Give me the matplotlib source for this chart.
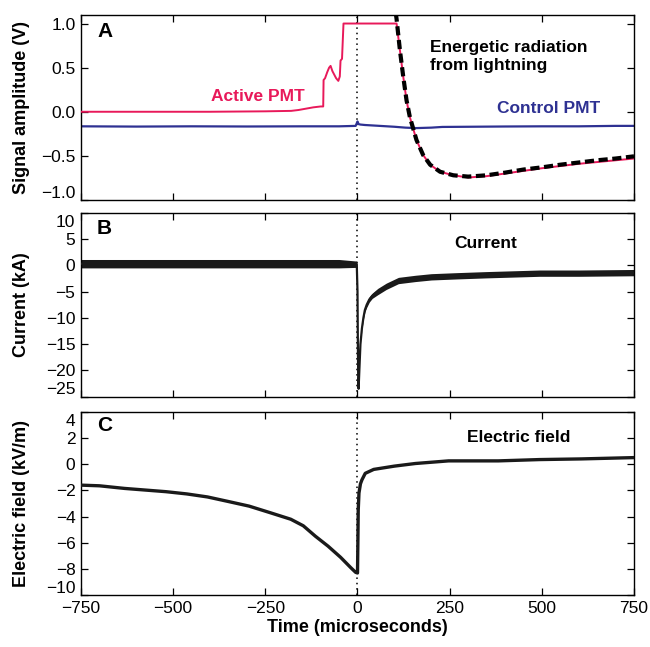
import matplotlib
matplotlib.use("Agg")
import matplotlib.pyplot as plt
import matplotlib.transforms as mtransforms
import numpy as np

plt.rcParams['font.family'] = ['Liberation Sans', 'DejaVu Sans']

# ---------------- data ----------------
# Panel A: Active PMT (red)
active_t = [-750, -600, -400, -250, -180, -160, -140, -120, -100, -93, -92, -88, -82, -77, -73,
            -68, -63, -58, -52, -48, -46, -42, -38, 0, 50, 100, 106, 115, 124, 133, 142, 151,
            160, 178, 197, 224, 260, 300, 350, 400, 450, 500, 550, 600, 650, 700, 750]
active_v = [0.0, 0.0, 0.0, 0.005, 0.01, 0.02, 0.035, 0.05, 0.06, 0.06, 0.36, 0.38, 0.45, 0.50, 0.52,
            0.46, 0.42, 0.38, 0.35, 0.40, 0.58, 0.60, 1.0, 1.0, 1.0, 1.0, 1.0, 0.70, 0.40, 0.13, -0.06, -0.19,
            -0.32, -0.49, -0.60, -0.68, -0.72, -0.745, -0.73, -0.70, -0.67, -0.64, -0.615, -0.59, -0.57, -0.55, -0.53]

# Panel A: fit (black dashed)
fit_t = [98, 106, 115, 124, 133, 142, 151, 160, 178, 197, 224, 260, 300, 350, 400, 450, 500,
         550, 600, 650, 700, 750]
fit_v = [1.30, 1.05, 0.70, 0.40, 0.13, -0.06, -0.19, -0.32, -0.49, -0.60, -0.68, -0.72, -0.735,
         -0.72, -0.69, -0.655, -0.63, -0.60, -0.575, -0.55, -0.53, -0.505]

# Panel A: Control PMT (blue)
control_t = [-750, -600, -450, -300, -150, -50, -5, 0, 3, 8, 20, 40, 60, 100, 130, 160, 200, 230,
             300, 400, 500, 600, 700, 750]
control_v = [-0.165, -0.168, -0.165, -0.167, -0.165, -0.165, -0.16, -0.11, -0.14, -0.145, -0.15,
             -0.155, -0.16, -0.17, -0.18, -0.185, -0.18, -0.172, -0.17, -0.167, -0.165, -0.165, -0.16, -0.16]

# Panel B: current (kA) with noise half-width
current_t = [-750, -600, -400, -200, -50, -2, 0, 1, 2, 3, 5, 8, 12, 16, 20, 25, 32, 40, 55, 78,
             111, 157, 200, 270, 350, 494, 600, 750]
current_v = [0.3, 0.3, 0.3, 0.3, 0.3, 0.2, -5, -15, -22, -23.5, -20, -15, -12, -10, -8.5, -7.5,
             -6.5, -5.8, -5.0, -4.0, -2.9, -2.5, -2.2, -2.0, -1.8, -1.5, -1.5, -1.4]
current_noise = [0.8, 0.8, 0.8, 0.8, 0.8, 0.6, 0, 0, 0, 0, 0, 0, 0.2, 0.3, 0.4, 0.5, 0.5, 0.5, 0.6,
                 0.6, 0.6, 0.6, 0.6, 0.6, 0.6, 0.6, 0.6, 0.6]

# Panel C: electric field (kV/m)
field_t = [-750, -700, -632, -519, -463, -407, -350, -294, -237, -181, -147, -114, -80, -46, -18,
           -5, 0, 1, 2, 4, 8, 12, 21, 44, 100, 157, 247, 382, 494, 607, 750]
field_v = [-1.6, -1.65, -1.85, -2.1, -2.27, -2.5, -2.85, -3.2, -3.7, -4.2, -4.7, -5.5, -6.25, -7.1,
           -7.9, -8.25, -8.3, -6.0, -3.5, -2.2, -1.5, -1.2, -0.7, -0.4, -0.15, 0.05, 0.25, 0.25,
           0.35, 0.4, 0.5]

x_ticks = [-750, -500, -250, 0, 250, 500, 750]
a_ticks = [-1.0, -0.5, 0.0, 0.5, 1.0]
b_ticks = [-25, -20, -15, -10, -5, 0, 5, 10]
c_ticks = [-10, -8, -6, -4, -2, 0, 2, 4]

RED = '#E8195A'
BLUE = '#2E3192'

# ---------------- figure ----------------
fig = plt.figure(figsize=(6.5, 6.47), dpi=100)
L, W = 81 / 650, 553 / 650
axA = fig.add_axes([L, 1 - 200 / 647, W, 185.3 / 647])
axB = fig.add_axes([L, 1 - 396.7 / 647, W, 184 / 647])
axC = fig.add_axes([L, 1 - 595.3 / 647, W, 183.6 / 647])

for ax in (axA, axB, axC):
    ax.set_xlim(-750, 750)
    ax.set_xticks(x_ticks)
    ax.tick_params(direction='in', top=True, right=True, length=5, width=0.9,
                   labelsize=12.5, pad=4)
    for s in ax.spines.values():
        s.set_linewidth(1.0)
    ax.axvline(0, color='black', linestyle=(0, (1, 2.5)), linewidth=1.1, zorder=1)

for ax in (axA, axB):
    ax.tick_params(labelbottom=False)

# Panel A
axA.plot(control_t, control_v, color=BLUE, linewidth=1.6, zorder=2)
axA.plot(active_t, active_v, color=RED, linewidth=1.4, zorder=3)
axA.plot(fit_t, fit_v, color='black', linewidth=3.0, dashes=(2.2, 1.1), zorder=4)
axA.set_ylim(-1.0, 1.1)
axA.set_yticks(a_ticks)
axA.set_yticklabels(['\u22121.0', '\u22120.5', '0.0', '0.5', '1.0'])
axA.set_ylabel('Signal amplitude (V)', fontsize=13, fontweight='bold')
axA.text(0.029, 0.91, 'A', transform=axA.transAxes, fontsize=15, fontweight='bold',
         va='center', ha='left')
axA.text(0.631, 0.775, 'Energetic radiation\nfrom lightning', transform=axA.transAxes,
         fontsize=12.5, fontweight='bold', va='center', ha='left', linespacing=1.2)
axA.text(0.235, 0.561, 'Active PMT', transform=axA.transAxes, fontsize=12.5,
         fontweight='bold', color=RED, va='center', ha='left')
axA.text(0.752, 0.496, 'Control PMT', transform=axA.transAxes, fontsize=12.5,
         fontweight='bold', color=BLUE, va='center', ha='left')

# Panel B
ct = np.array(current_t, dtype=float)
cv = np.array(current_v, dtype=float)
cn = np.array(current_noise, dtype=float)
axB.fill_between(ct, cv - cn, cv + cn, color='#1a1a1a', linewidth=0, zorder=2)
axB.plot(ct, cv, color='#1a1a1a', linewidth=1.6, zorder=3)
axB.set_ylim(-25, 10)
axB.set_yticks(b_ticks)
axB.set_yticklabels(['\u221225', '\u221220', '\u221215', '\u221210', '\u22125', '0', '5', '10'])
axB.set_ylabel('Current (kA)', fontsize=13, fontweight='bold')
axB.text(0.029, 0.914, 'B', transform=axB.transAxes, fontsize=15, fontweight='bold',
         va='center', ha='left')
axB.text(0.731, 0.835, 'Current', transform=axB.transAxes, fontsize=12.5,
         fontweight='bold', va='center', ha='center')

# Panel C
axC.plot(field_t, field_v, color='#1a1a1a', linewidth=2.4, zorder=3)
axC.set_ylim(-10, 4)
axC.set_yticks(c_ticks)
axC.set_yticklabels(['\u221210', '\u22128', '\u22126', '\u22124', '\u22122', '0', '2', '4'])
axC.set_xticklabels(['\u2212750', '\u2212500', '\u2212250', '0', '250', '500', '750'])
axC.set_ylabel('Electric field (kV/m)', fontsize=13, fontweight='bold')
axC.set_xlabel('Time (microseconds)', fontsize=13, fontweight='bold', labelpad=2)
axC.text(0.029, 0.925, 'C', transform=axC.transAxes, fontsize=15, fontweight='bold',
         va='center', ha='left')
axC.text(0.792, 0.862, 'Electric field', transform=axC.transAxes, fontsize=12.5,
         fontweight='bold', va='center', ha='center')

for ax in (axA, axB, axC):
    ax.yaxis.set_label_coords(-0.093, 0.5)

# shift end-of-axis tick labels inward so neighbouring panels do not collide
up = mtransforms.ScaledTranslation(0, 6 / 72, fig.dpi_scale_trans)
down = mtransforms.ScaledTranslation(0, -6 / 72, fig.dpi_scale_trans)
for ax in (axA, axB, axC):
    labels = ax.get_yticklabels()
    labels[0].set_transform(labels[0].get_transform() + up)
for ax in (axB, axC):
    labels = ax.get_yticklabels()
    labels[-1].set_transform(labels[-1].get_transform() + down)

fig.savefig('out.png', dpi=100)
